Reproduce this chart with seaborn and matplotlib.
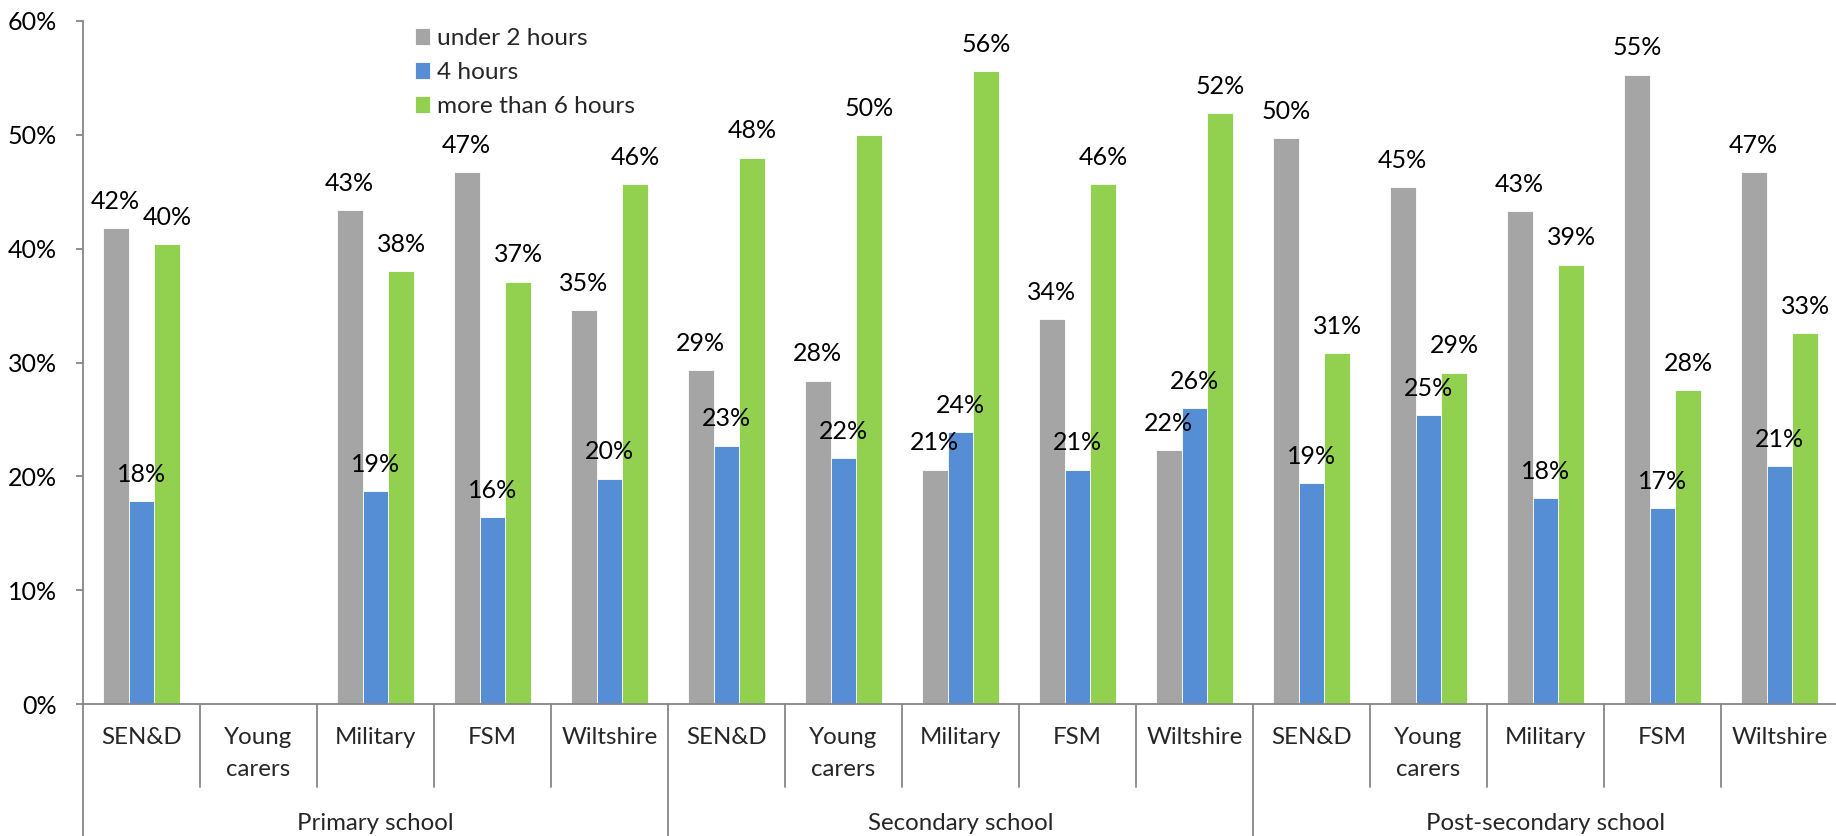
import numpy as np
import pandas as pd
import matplotlib
matplotlib.use("Agg")
import matplotlib.pyplot as plt
import seaborn as sns

# ---- data ----
groups = ["Primary school", "Secondary school", "Post-secondary school"]
subcats = ["SEN&D", "Young\ncarers", "Military", "FSM", "Wiltshire"]
series = ["under 2 hours", "4 hours", "more than 6 hours"]
colors = ["#A5A5A5", "#558ED5", "#92D050"]

under2 = [41.8, np.nan, 43.4, 46.7, 34.6,
          29.3, 28.4, 20.6, 33.8, 22.3,
          49.7, 45.4, 43.3, 55.3, 46.7]
four = [17.8, np.nan, 18.7, 16.4, 19.8,
        22.7, 21.6, 23.9, 20.6, 26.0,
        19.4, 25.4, 18.1, 17.2, 20.9]
more6 = [40.4, np.nan, 38.0, 37.1, 45.7,
         48.0, 50.0, 55.6, 45.7, 51.9,
         30.8, 29.1, 38.6, 27.6, 32.6]

yticks = [0, 10, 20, 30, 40, 50, 60]

# ---- build long table ----
keys = [f"{g}|{s}" for g in groups for s in subcats]
rows = []
for name, vals in zip(series, [under2, four, more6]):
    for k, v in zip(keys, vals):
        rows.append({"cat": k, "series": name, "value": v})
df = pd.DataFrame(rows)

sns.set_style("white")
plt.rcParams["font.family"] = ["Lato", "DejaVu Sans"]
FSN = 18     # numbers
FST = 17.3   # text

fig = plt.figure(figsize=(18.36, 8.36), dpi=100)
W, H = 1836, 836
x0, x1, ytop, ybot = 83, 1838, 21, 704
ax = fig.add_axes([x0 / W, 1 - ybot / H, (x1 - x0) / W, (ybot - ytop) / H])

sns.barplot(data=df, x="cat", y="value", hue="series", order=keys,
            hue_order=series, palette=colors, saturation=1, width=0.66, ax=ax,
            edgecolor="white", linewidth=0.6, errorbar=None, legend=True)

# value labels
for cont in ax.containers:
    ax.bar_label(cont, fmt=lambda v: f"{v:.0f}%", padding=11, fontsize=FSN,
                 color="black")

ax.set_xlim(-0.5, len(keys) - 0.5)
ax.set_ylim(0, 60)
ax.set_yticks(yticks)
ax.set_yticklabels([f"{t}%" for t in yticks], fontsize=FSN)
ax.set_xticks([])
ax.set_xlabel("")
ax.set_ylabel("")
for s in ["top", "right"]:
    ax.spines[s].set_visible(False)
for s in ["left", "bottom"]:
    ax.spines[s].set_color("#868686")
    ax.spines[s].set_linewidth(1.3)
ax.tick_params(axis="y", which="both", left=True, length=5, width=1.3,
               color="#868686", pad=13.5, labelcolor="black")

# hierarchical category axis
trans = ax.get_xaxis_transform()
axh = ybot - ytop
inner_bot = -(787 - ybot) / axh
outer_bot = -(H - ybot + 2) / axh
n = len(keys)
for i in range(n + 1):
    xb = i - 0.5
    yb = outer_bot if i % len(subcats) == 0 else inner_bot
    ax.plot([xb, xb], [0, yb], transform=trans, color="#868686", lw=1.3,
            clip_on=False)
for i, k in enumerate(keys):
    sub = k.split("|")[1]
    ax.text(i, -(727 - ybot) / axh, sub, transform=trans, ha="center",
            va="top", fontsize=FST, linespacing=1.62)
for gi, g in enumerate(groups):
    xc = gi * len(subcats) + (len(subcats) - 1) / 2
    ax.text(xc, -(823 - ybot) / axh, g, transform=trans, ha="center",
            va="center", fontsize=FST)

# legend
leg = ax.legend(loc="upper left",
                bbox_to_anchor=((415 - x0) / (x1 - x0), 1 - (28 - ytop) / axh),
                frameon=False, fontsize=FST + 0.3, handlelength=0.62,
                handleheight=0.7, handletextpad=0.3, labelspacing=0.52,
                borderaxespad=0, borderpad=0)

fig.savefig("out.png", dpi=100)
